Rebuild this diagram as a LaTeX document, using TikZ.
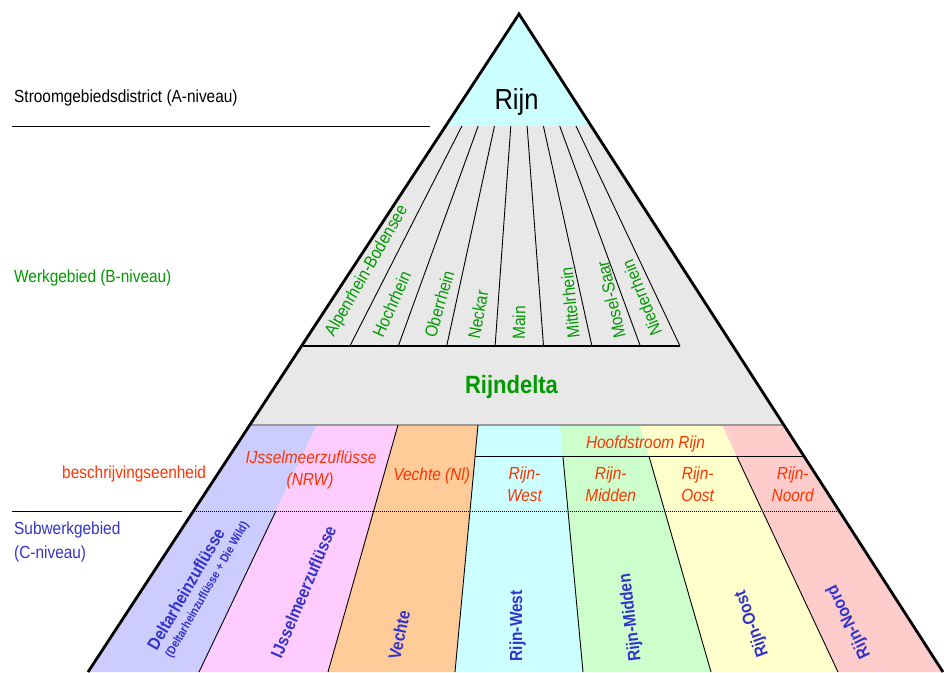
\documentclass[tikz,border=0pt]{standalone}
\usepackage{fontspec}
\setmainfont[FakeStretch=0.88]{Liberation Sans}
\definecolor{topcyan}{HTML}{CCFFFF}
\definecolor{grayfill}{HTML}{E8E8E8}
\definecolor{grayline}{HTML}{999999}
\definecolor{lav}{HTML}{CCCCFF}
\definecolor{pnk}{HTML}{FFCCFF}
\definecolor{orng}{HTML}{FFCC99}
\definecolor{cyn}{HTML}{CCFFFF}
\definecolor{lgrn}{HTML}{CCFFCC}
\definecolor{yel}{HTML}{FFFFCC}
\definecolor{rose}{HTML}{FFCCCC}
\definecolor{grn}{HTML}{009900}
\definecolor{rd}{HTML}{FF3300}
\definecolor{blu}{HTML}{3333CC}
\begin{document}
\begin{tikzpicture}[x=1pt,y=-1pt,
  outline/.style={line width=2.8pt, line join=miter},
  thinline/.style={line width=0.9pt},
  lbl/.style={inner sep=0pt, font=\fontsize{17.5}{21}\selectfont},
  greenlbl/.style={lbl, text=grn},
  redlbl/.style={lbl, text=rd, font=\fontsize{17.5}{21}\selectfont\itshape},
  bluelbl/.style={lbl, text=blu, font=\fontsize{17.5}{21}\selectfont\bfseries},
  levellbl/.style={lbl, anchor=base west},
]
\useasboundingbox (0,0) rectangle (944,672);
% key points
\coordinate (apex) at (519,14);
\coordinate (lA) at (445.6,126); \coordinate (rA) at (591.2,126);
\coordinate (lB) at (301.5,346); \coordinate (sB) at (680,346);
\coordinate (lC) at (249.8,425); \coordinate (rC) at (783.9,425);
\coordinate (lD) at (193.5,511); \coordinate (rD) at (839.3,511);
\coordinate (lE) at (88,672);   \coordinate (rE) at (943,672);
% fills
\fill[topcyan] (apex) -- (rA) -- (lA) -- cycle;
\fill[grayfill] (lA) -- (rA) -- (rC) -- (lC) -- cycle;
\fill[lav]  (lC) -- (317,425) -- (199,672) -- (lE) -- cycle;
\fill[pnk]  (317,425) -- (398,425) -- (328,672) -- (199,672) -- cycle;
\fill[orng] (398,425) -- (478,425) -- (455,672) -- (328,672) -- cycle;
\fill[cyn]  (478,425) -- (560,425) -- (583,672) -- (455,672) -- cycle;
\fill[lgrn] (560,425) -- (640,425) -- (711,672) -- (583,672) -- cycle;
\fill[yel]  (640,425) -- (722,425) -- (838,672) -- (711,672) -- cycle;
\fill[rose] (722,425) -- (rC) -- (rE) -- (838,672) -- cycle;
% B-level strips
\foreach \t/\b in {461.9/349.9, 478.2/398.3, 494.5/446.7, 510.8/495.1,
                   527.1/543.5, 543.4/591.9, 559.7/640.3, 576.0/680}
  \draw[thinline] (\t,126) -- (\b,346);
\draw[line width=1.1pt] (lB) -- (sB);
% lower lines
\draw[line width=1.6pt, draw=grayline] (lC) -- (rC);
\draw[thinline] (398,425) -- (328,672);
\draw[thinline] (478,425) -- (455,672);
\draw[thinline] (475.1,456) -- (803.8,456);
\draw[thinline] (562.9,456) -- (583,672);
\draw[thinline] (648.9,456) -- (711,672);
\draw[thinline] (736.6,456) -- (838,672);
\draw[thinline] (275.9,511) -- (199,672);
\draw[line width=0.8pt, dash pattern=on 1pt off 1pt] (lD) -- (rD);
% outline
\draw[outline] (lE) -- (apex) -- (rE);
% left separators
\draw[line width=1pt] (12,126) -- (430,126);
\draw[line width=1pt] (12,511.5) -- (182,511.5);
% left labels
\node[levellbl] (la) at (14,102) {Stroomgebiedsdistrict (A-niveau)};
\node[levellbl, text=grn] (lb) at (14,282.5) {Werkgebied (B-niveau)};
\node[levellbl, text=rd] (lbe) at (62,478) {beschrijvingseenheid};
\node[levellbl, text=blu] (lc1) at (14,534) {Subwerkgebied};
\node[levellbl, text=blu] (lc2) at (14,558) {(C-niveau)};
% top
\node[inner sep=0pt, anchor=base, font=\fontsize{29}{34}\selectfont] (rijn) at (516.5,109) {Rijn};
% strips
\node[greenlbl, rotate=60] (s1) at (367,271.3) {Alpenrhein-Bodensee};
\node[greenlbl, rotate=66] (s2) at (391.7,304) {Hochrhein};
\node[greenlbl, rotate=74] (s3) at (439.2,304) {Oberrhein};
\node[greenlbl, rotate=80] (s4) at (478,314.5) {Neckar};
\node[greenlbl, rotate=89] (s5) at (519,323) {Main};
\node[greenlbl, rotate=96] (s6) at (570,303) {Mittelrhein};
\node[greenlbl, rotate=103] (s7) at (611,300) {Mosel-Saar};
\node[greenlbl, rotate=112] (s8) at (641.7,298) {Niederrhein};
\node[inner sep=0pt, anchor=base, text=grn, font=\fontsize{25}{30}\selectfont\bfseries] (delta) at (511.5,393) {Rijndelta};
% beschrijvingseenheden
\node[redlbl, anchor=base] (r1a) at (311,463.3) {IJsselmeerzuflüsse};
\node[redlbl, anchor=base] (r1b) at (310,485.7) {(NRW)};
\node[redlbl, anchor=base] (r2) at (431.7,480) {Vechte (Nl)};
\node[redlbl, anchor=base] (hr) at (645.5,448) {Hoofdstroom Rijn};
\node[redlbl, anchor=base] (r3a) at (524.5,479) {Rijn-};
\node[redlbl, anchor=base] (r3b) at (524.5,501.7) {West};
\node[redlbl, anchor=base] (r4a) at (610.7,479) {Rijn-};
\node[redlbl, anchor=base] (r4b) at (610.7,501.7) {Midden};
\node[redlbl, anchor=base] (r5a) at (697.7,479) {Rijn-};
\node[redlbl, anchor=base] (r5b) at (697.7,501.7) {Oost};
\node[redlbl, anchor=base] (r6a) at (792.7,479) {Rijn-};
\node[redlbl, anchor=base] (r6b) at (792.7,501.7) {Noord};
% subwerkgebieden
\node[bluelbl, rotate=60] (b1) at (185.8,589.2) {Deltarheinzuflüsse};
\node[bluelbl, rotate=60, font=\fontsize{12}{14}\selectfont\bfseries] (b1s) at (207.5,590) {(Deltarheinzuflüsse + Die Wild)};
\node[bluelbl, rotate=67] (b2) at (303.3,591.7) {IJsselmeerzuflüsse};
\node[bluelbl, rotate=78] (b3) at (399.2,634.7) {Vechte};
\node[bluelbl, rotate=90] (b4) at (517.5,625.8) {Rijn-West};
\node[bluelbl, rotate=97] (b5) at (630.8,617.5) {Rijn-Midden};
\node[bluelbl, rotate=110] (b6) at (752.2,623.8) {Rijn-Oost};
\node[bluelbl, rotate=116] (b7) at (849.2,621.7) {Rijn-Noord};
\end{tikzpicture}
\end{document}
